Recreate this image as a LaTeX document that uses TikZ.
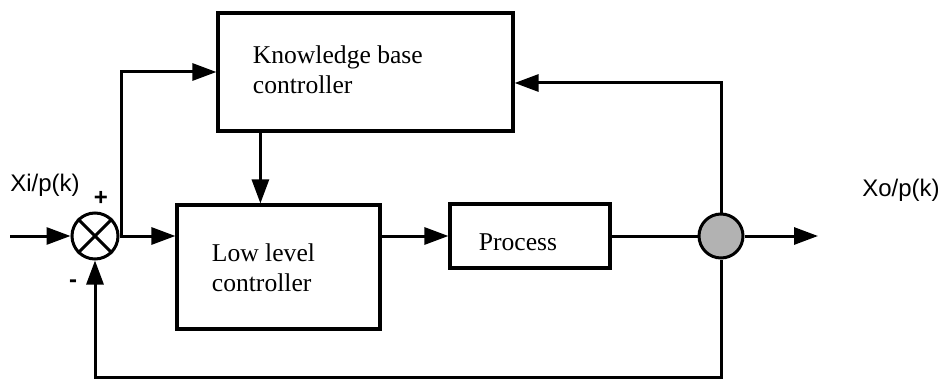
\documentclass[tikz,border=0pt]{standalone}
\usepackage{fontspec}
\setmainfont{Liberation Serif}
\newfontfamily\lblfont{Liberation Sans}
\usetikzlibrary{arrows.meta}

\newcommand{\dims}{
\def\lw{1.5pt}      % line width
\def\rs{23pt}       % summing/pick-off diameter
\def\ah{12pt}       % arrow head length
}
\newcommand{\scl}{0.5pt}

\begin{document}
\begin{tikzpicture}[x=\scl,y=-\scl,
  blok/.style={draw,line width=1.6pt,inner sep=0pt},
  txt/.style={font=\fontsize{12.8}{15}\selectfont,align=left,inner sep=0pt},
  lbl/.style={font=\lblfont\fontsize{12}{14}\selectfont,inner sep=0pt},
  arr/.style={-{Triangle[length=\ah,width=8.5pt]}}]
  \dims
  \useasboundingbox (0,0) rectangle (951,379);
  \tikzset{every path/.style={line width=\lw}}
%
  \node[blok,minimum width=147.5pt,minimum height=59pt] (kbc) at (365.5,72) {};
  \node[blok,minimum width=101.5pt,minimum height=62pt] (low) at (278.5,267) {};
  \node[blok,minimum width=80pt,minimum height=32pt]    (proc) at (530,236) {};
  \node[draw,circle,minimum size=\rs,inner sep=0pt] (sum) at (95,236) {};
  \node[draw,circle,minimum size=22pt,inner sep=0pt,fill=gray!60] (pick) at (721,236) {};
%
  % base of a two-line node sits on its last line
  \node[txt,anchor=base west] (kbtxt) at ([xshift=17.5pt,yshift=-41pt]kbc.north west)
    {Knowledge base\\controller};
  \node[txt,anchor=base west] (lowtxt) at ([xshift=17.5pt,yshift=-44pt]low.north west)
    {Low level\\controller};
  \node[txt,anchor=base] (proctxt) at ([xshift=-6pt,yshift=-7pt]proc.center) {Process};
  \node[lbl] (xin) at (45,185) {Xi/p(k)};
  \node[lbl] (xout) at (901,190) {Xo/p(k)};
  \node[lbl,font=\lblfont\bfseries\fontsize{12}{14}\selectfont] (plus) at (101,198) {+};
  \node[lbl,font=\lblfont\bfseries\fontsize{12}{14}\selectfont] (minus) at (73,284) {-};
%
  \draw (sum.north east) -- (sum.south west);
  \draw (sum.north west) -- (sum.south east);
%
  \coordinate (inp) at (10,236);
  \coordinate (br) at (121,236);
  \coordinate (outp) at (818,236);
  \coordinate (bot) at (0,377);
  \draw[arr] (inp) -- (sum.west);
  \draw[arr] (sum.east) -- (sum.east -| low.west);
  \draw[arr] (br) |- (kbc.west);
  \draw[arr] ([xshift=22pt]kbc.south west) -- ([xshift=22pt]kbc.south west |- low.north);
  \draw[arr] (low.east |- proc.west) -- (proc.west);
  \draw (proc.east) -- (pick.west);
  \draw[arr] (pick.east) -- (outp);
  \draw[arr] (pick.north) |- ([yshift=-5.5pt]kbc.east);
  \draw[arr] (pick.south) -- (pick.south |- bot) -| (sum.south);
\end{tikzpicture}
\end{document}
